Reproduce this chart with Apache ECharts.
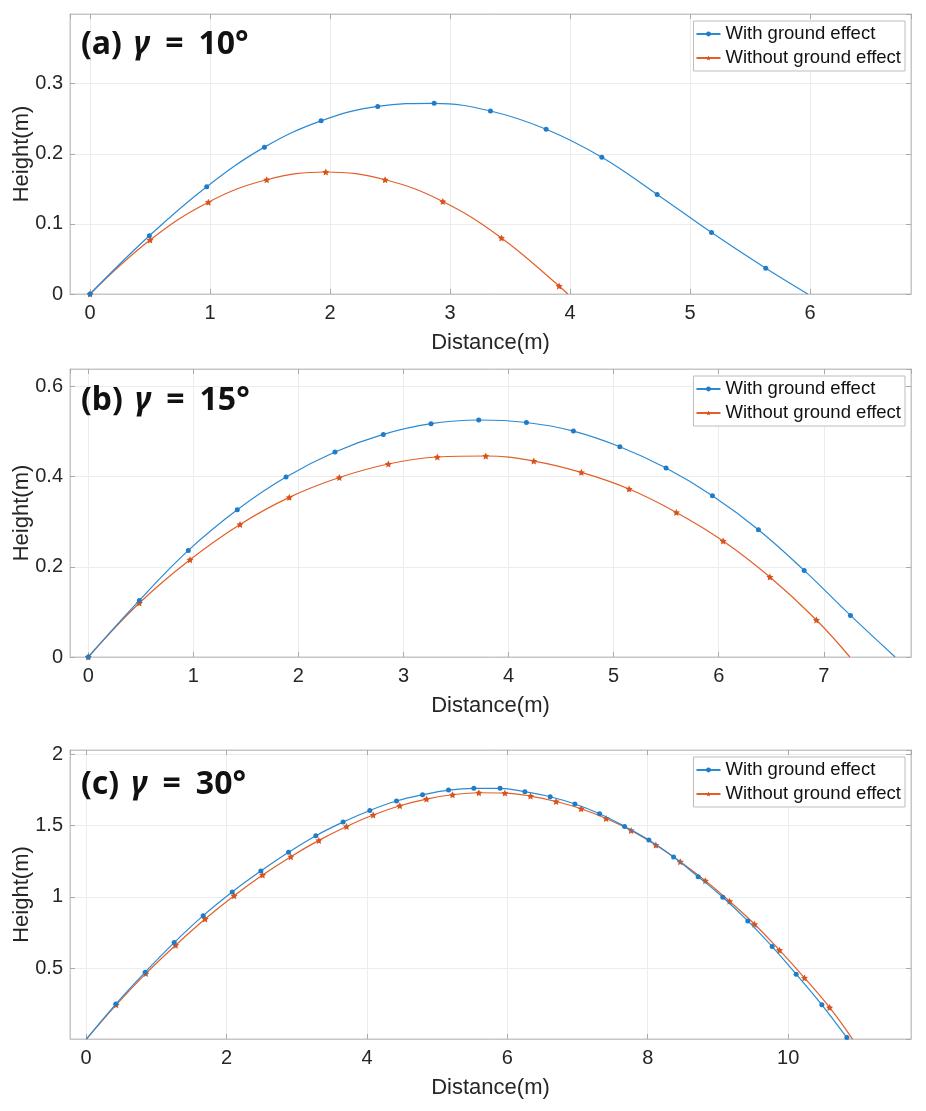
<!DOCTYPE html>
<html>
<head>
<meta charset="utf-8">
<title>Trajectories</title>
<script src="https://cdn.jsdelivr.net/npm/echarts@6/dist/echarts.min.js"></script>
<style>
  html, body { margin: 0; padding: 0; background: #fff; }
  #traj_graph { width: 926px; height: 1111px; }
</style>
</head>
<body>
<div id="traj_graph"></div>
<script>
// (a) gamma = 10 deg
var aWithX = [0, 0.494, 0.972, 1.453, 1.925, 2.397, 2.867, 3.336, 3.80, 4.264, 4.725, 5.178, 5.63];
var aWithY = [0, 0.083, 0.153, 0.2095, 0.247, 0.2676, 0.272, 0.261, 0.235, 0.195, 0.142, 0.0876, 0.0367];
var aWithEnd = [5.98, 0];
var aWithoutX = [0, 0.5, 0.986, 1.472, 1.964, 2.458, 2.939, 3.428, 3.908];
var aWithoutY = [0, 0.077, 0.131, 0.163, 0.174, 0.163, 0.132, 0.080, 0.0114];
var aWithoutEnd = [3.98, 0];

// (b) gamma = 15 deg
var bWithX = [0, 0.486, 0.952, 1.418, 1.882, 2.348, 2.808, 3.262, 3.716, 4.17, 4.617, 5.059, 5.499, 5.94, 6.378, 6.813, 7.254];
var bWithY = [0, 0.1255, 0.2364, 0.3266, 0.399, 0.4545, 0.4936, 0.5173, 0.5255, 0.520, 0.501, 0.4663, 0.419, 0.3577, 0.2823, 0.192, 0.0922];
var bWithEnd = [7.679, 0];
var bWithoutX = [0, 0.486, 0.968, 1.444, 1.913, 2.389, 2.856, 3.322, 3.783, 4.24, 4.693, 5.147, 5.597, 6.042, 6.487, 6.93];
var bWithoutY = [0, 0.1197, 0.2157, 0.294, 0.354, 0.398, 0.428, 0.4435, 0.4457, 0.4345, 0.4094, 0.3725, 0.3206, 0.2572, 0.1773, 0.082];
var bWithoutEnd = [7.248, 0];

// (c) gamma = 30 deg
var cWithX = [0, 0.423, 0.841, 1.254, 1.667, 2.08, 2.489, 2.883, 3.272, 3.661, 4.041, 4.421, 4.792, 5.162, 5.523,
              5.897, 6.25, 6.61, 6.962, 7.314, 7.67, 8.016, 8.368, 8.718, 9.069, 9.425, 9.772, 10.114, 10.48, 10.836];
var cWithY = [0, 0.248, 0.472, 0.679, 0.868, 1.034, 1.181, 1.312, 1.429, 1.525, 1.606, 1.672, 1.716, 1.749, 1.761,
              1.761, 1.737, 1.702, 1.651, 1.583, 1.494, 1.398, 1.279, 1.141, 0.997, 0.831, 0.651, 0.458, 0.243, 0.013];
var cWithEnd = [10.85, 0];
var cWithoutX = [0, 0.428, 0.85, 1.274, 1.695, 2.108, 2.513, 2.916, 3.315, 3.709, 4.088, 4.468, 4.848, 5.219, 5.594,
                 5.965, 6.33, 6.695, 7.051, 7.407, 7.763, 8.116, 8.463, 8.82, 9.165, 9.521, 9.877, 10.233, 10.59];
var cWithoutY = [0, 0.243, 0.462, 0.661, 0.845, 1.008, 1.153, 1.282, 1.396, 1.494, 1.574, 1.639, 1.686, 1.716, 1.73,
                 1.728, 1.707, 1.669, 1.618, 1.55, 1.466, 1.363, 1.246, 1.113, 0.969, 0.808, 0.626, 0.432, 0.224];
var cWithoutEnd = [10.92, 0];

var panelTitles = ['(a)', '(b)', '(c)'];
var panelAngles = ['10°', '15°', '30°'];
var seriesNames = ['With ground effect', 'Without ground effect'];

var blue = '#2a8ad4';
var orange = '#e25f28';
var frameColor = '#c6c6c6';
var starPath = 'path://M0,-10L2.9,-4L9.5,-3.1L4.7,1.5L5.9,8.1L0,5L-5.9,8.1L-4.7,1.5L-9.5,-3.1L-2.9,-4Z';

function pairs(xs, ys, end) {
    var out = xs.map(function (x, i) { return [x, ys[i]]; });
    // curve runs on to the ground, no marker there
    out.push({ value: end, symbol: 'none' });
    return out;
}

function xAxes(g, min, max, step) {
    return [{
        type: 'value', gridIndex: g, min: min, max: max, minInterval: step, maxInterval: step,
        name: 'Distance(m)', nameLocation: 'middle', nameGap: 38,
        nameTextStyle: { fontSize: 22, color: '#262626', fontFamily: 'Liberation Sans' },
        axisLine: { show: true, onZero: false, lineStyle: { color: frameColor } },
        axisTick: { show: true, inside: true, length: 5, lineStyle: { color: '#aaa' } },
        axisLabel: { fontSize: 20, color: '#262626', fontFamily: 'Liberation Sans', margin: 9,
                     showMinLabel: false, showMaxLabel: false },
        splitLine: { show: true, lineStyle: { color: '#ececec' } }
    }, {
        type: 'value', gridIndex: g, position: 'top', min: min, max: max, minInterval: step, maxInterval: step,
        axisLine: { show: true, onZero: false, lineStyle: { color: frameColor } },
        axisTick: { show: true, inside: true, length: 5, lineStyle: { color: '#aaa' } },
        axisLabel: { show: false },
        splitLine: { show: false }
    }];
}

function yAxes(g, min, max, step, hideMin) {
    return [{
        type: 'value', gridIndex: g, min: min, max: max, minInterval: step, maxInterval: step,
        name: 'Height(m)', nameLocation: 'middle', nameGap: 37, nameMoveOverlap: false,
        nameTextStyle: { fontSize: 22, color: '#262626', fontFamily: 'Liberation Sans' },
        axisLine: { show: true, onZero: false, lineStyle: { color: frameColor } },
        axisTick: { show: true, inside: true, length: 5, lineStyle: { color: '#aaa' } },
        axisLabel: { fontSize: 20, color: '#262626', fontFamily: 'Liberation Sans', margin: 7,
                     showMinLabel: !hideMin, showMaxLabel: false },
        splitLine: { show: true, lineStyle: { color: '#ececec' } }
    }, {
        type: 'value', gridIndex: g, position: 'right', min: min, max: max, minInterval: step, maxInterval: step,
        axisLine: { show: true, onZero: false, lineStyle: { color: frameColor } },
        axisTick: { show: true, inside: true, length: 5, lineStyle: { color: '#aaa' } },
        axisLabel: { show: false },
        splitLine: { show: false }
    }];
}

function lineSeries(g, name, data, isBlue) {
    return {
        name: name,
        type: 'line',
        xAxisIndex: 2 * g,
        yAxisIndex: 2 * g,
        data: data,
        smooth: 0.4,
        symbol: isBlue ? 'circle' : starPath,
        symbolSize: isBlue ? 5 : 7,
        showAllSymbol: true,
        lineStyle: { width: 1.2, color: isBlue ? blue : orange },
        itemStyle: { color: isBlue ? '#1f7cc8' : '#d9531c' },
        z: isBlue ? 3 : 2
    };
}

var Chart1 = echarts.init(document.getElementById('traj_graph'));

var titleTops = [24, 380, 764];
var legendTops = [21, 376, 757];

var titleRich = {
    p: { fontFamily: 'Noto Sans', fontWeight: 'bold', fontSize: 32, color: '#111' },
    g: { fontFamily: 'Noto Sans', fontStyle: 'italic', fontWeight: 'bold', fontSize: 32, color: '#111', padding: [0, 0, 0, 12] },
    e: { fontFamily: 'Noto Sans', fontWeight: 'bold', fontSize: 32, color: '#111', padding: [0, 15, 0, 15] }
};

var option1 = {
    animation: false,
    backgroundColor: '#fff',
    title: panelTitles.map(function (t, i) {
        return {
            text: '{p|' + t + '}{g|γ}{e|=}{p|' + panelAngles[i] + '}',
            left: 76,
            top: titleTops[i],
            textStyle: { rich: titleRich }
        };
    }),
    legend: legendTops.map(function (top) {
        return {
            data: seriesNames,
            orient: 'vertical',
            right: 21,
            top: top,
            itemWidth: 24,
            itemHeight: 6,
            itemGap: 4,
            padding: [3, 4, 3, 2],
            borderColor: '#bdbdbd',
            borderWidth: 1,
            backgroundColor: '#fff',
            textStyle: { fontSize: 18.5, color: '#111', fontFamily: 'Liberation Sans', lineHeight: 20 }
        };
    }),
    grid: [
        { left: 70, right: 15, top: 14, height: 280, outerBoundsMode: 'none', show: true, borderColor: frameColor, borderWidth: 1 },
        { left: 70, right: 15, top: 369, height: 288, outerBoundsMode: 'none', show: true, borderColor: frameColor, borderWidth: 1 },
        { left: 70, right: 15, top: 750, height: 289, outerBoundsMode: 'none', show: true, borderColor: frameColor, borderWidth: 1 }
    ],
    xAxis: [].concat(
        xAxes(0, -0.167, 6.84, 1),
        xAxes(1, -0.174, 7.83, 1),
        xAxes(2, -0.23, 11.75, 2)
    ),
    yAxis: [].concat(
        yAxes(0, 0, 0.3994, 0.1, false),
        yAxes(1, 0, 0.6386, 0.2, false),
        yAxes(2, 0.003, 2.03, 0.5, true)
    ),
    series: [
        lineSeries(0, seriesNames[0], pairs(aWithX, aWithY, aWithEnd), true),
        lineSeries(0, seriesNames[1], pairs(aWithoutX, aWithoutY, aWithoutEnd), false),
        lineSeries(1, seriesNames[0], pairs(bWithX, bWithY, bWithEnd), true),
        lineSeries(1, seriesNames[1], pairs(bWithoutX, bWithoutY, bWithoutEnd), false),
        lineSeries(2, seriesNames[0], pairs(cWithX, cWithY, cWithEnd), true),
        lineSeries(2, seriesNames[1], pairs(cWithoutX, cWithoutY, cWithoutEnd), false)
    ]
};

Chart1.setOption(option1);
</script>
</body>
</html>
